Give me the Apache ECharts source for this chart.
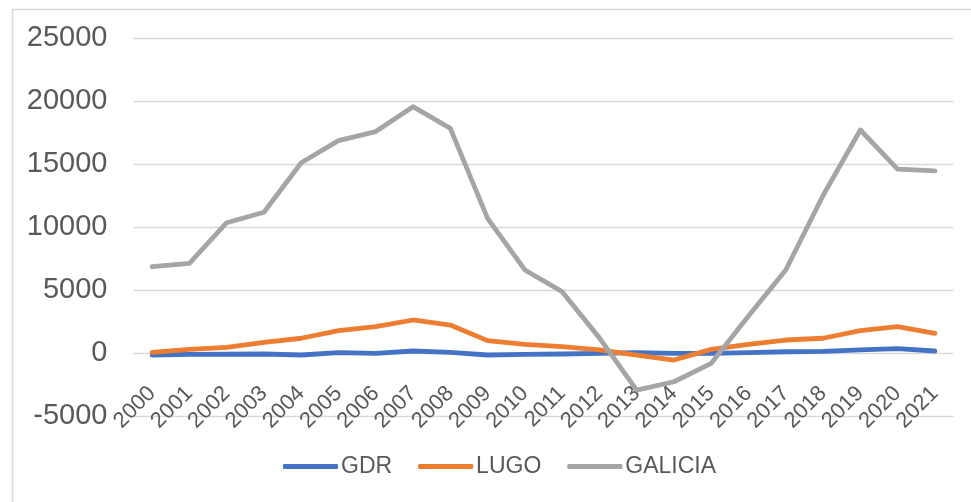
<!DOCTYPE html>
<html>
<head>
<meta charset="utf-8">
<script src="https://cdn.jsdelivr.net/npm/echarts@6/dist/echarts.min.js"></script>
<style>
  html, body { margin: 0; padding: 0; background: #ffffff; }
  #chart { width: 971px; height: 502px; }
</style>
</head>
<body>
<div id="chart"></div>
<script>
// Years on the category axis
const years = ['2000','2001','2002','2003','2004','2005','2006','2007','2008','2009','2010',
               '2011','2012','2013','2014','2015','2016','2017','2018','2019','2020','2021'];

// Series values
const gdr = [-160, -110, -100, -80, -160, 30, -30, 160, 50, -160, -110,
             -80, -30, 30, -30, -30, 30, 100, 130, 240, 340, 160];
const lugo = [50, 290, 450, 850, 1170, 1770, 2090, 2620, 2220, 980, 690,
              500, 240, -160, -560, 290, 690, 1030, 1170, 1770, 2090, 1560];
const galicia = [6850, 7120, 10340, 11170, 15100, 16850, 17570, 19550, 17830, 10690, 6590,
                 4870, 1200, -2940, -2280, -820, 2940, 6590, 12500, 17700, 14600, 14450];

// Value axis range
const yMin = -5000;
const yMax = 25000;
const yStep = 5000;

const font = '"Liberation Sans", Arial, sans-serif';
const textColor = '#595959';

// Plot box (pixels); the category labels sit on the zero line
const gridTop = 38;
const gridBottom = 86;
const chartHeight = 502;
const plotHeight = chartHeight - gridTop - gridBottom;
const zeroShift = plotHeight * (0 - yMin) / (yMax - yMin);

const chart = echarts.init(document.getElementById('chart'), null, { renderer: 'canvas' });

function lineSeries(name, data, color) {
  return {
    name: name,
    type: 'line',
    data: data,
    symbol: 'none',
    smooth: false,
    lineStyle: { color: color, width: 4.8, cap: 'round', join: 'round' },
    itemStyle: { color: color },
    emphasis: { disabled: true }
  };
}

chart.setOption({
  animation: false,
  backgroundColor: '#ffffff',
  graphic: [{
    type: 'rect',
    left: 10, top: 7,
    shape: { width: 990, height: 530 },
    style: { fill: 'none', stroke: '#d9d9d9', lineWidth: 1.5 },
    silent: true
  }],
  grid: { left: 133.5, right: 17.5, top: gridTop, bottom: gridBottom, containLabel: false },
  legend: {
    bottom: 19,
    left: 278,
    itemWidth: 55,
    itemHeight: 5,
    itemGap: 26,
    icon: 'roundRect',
    textStyle: { fontFamily: font, fontSize: 23, color: textColor, padding: [0, 0, 0, -2] },
    data: ['GDR', 'LUGO', 'GALICIA']
  },
  xAxis: {
    type: 'category',
    data: years,
    boundaryGap: true,
    offset: -zeroShift,
    axisLine: { show: false, onZero: false },
    axisTick: { show: false },
    axisLabel: {
      rotate: 45,
      interval: 0,
      margin: 37,
      hideOverlap: false,
      fontFamily: font,
      fontSize: 22,
      color: textColor
    },
    splitLine: { show: false }
  },
  yAxis: {
    type: 'value',
    min: yMin,
    max: yMax,
    interval: yStep,
    axisLine: { show: false },
    axisTick: { show: false },
    axisLabel: {
      fontFamily: font, fontSize: 29, color: textColor, margin: 26,
      formatter: function (v) { return String(v); }
    },
    splitLine: { lineStyle: { color: '#d9d9d9', width: 1.3 } }
  },
  series: [
    lineSeries('GDR', gdr, '#4472C4'),
    lineSeries('LUGO', lugo, '#ED7D31'),
    lineSeries('GALICIA', galicia, '#A5A5A5')
  ]
});
</script>
</body>
</html>
